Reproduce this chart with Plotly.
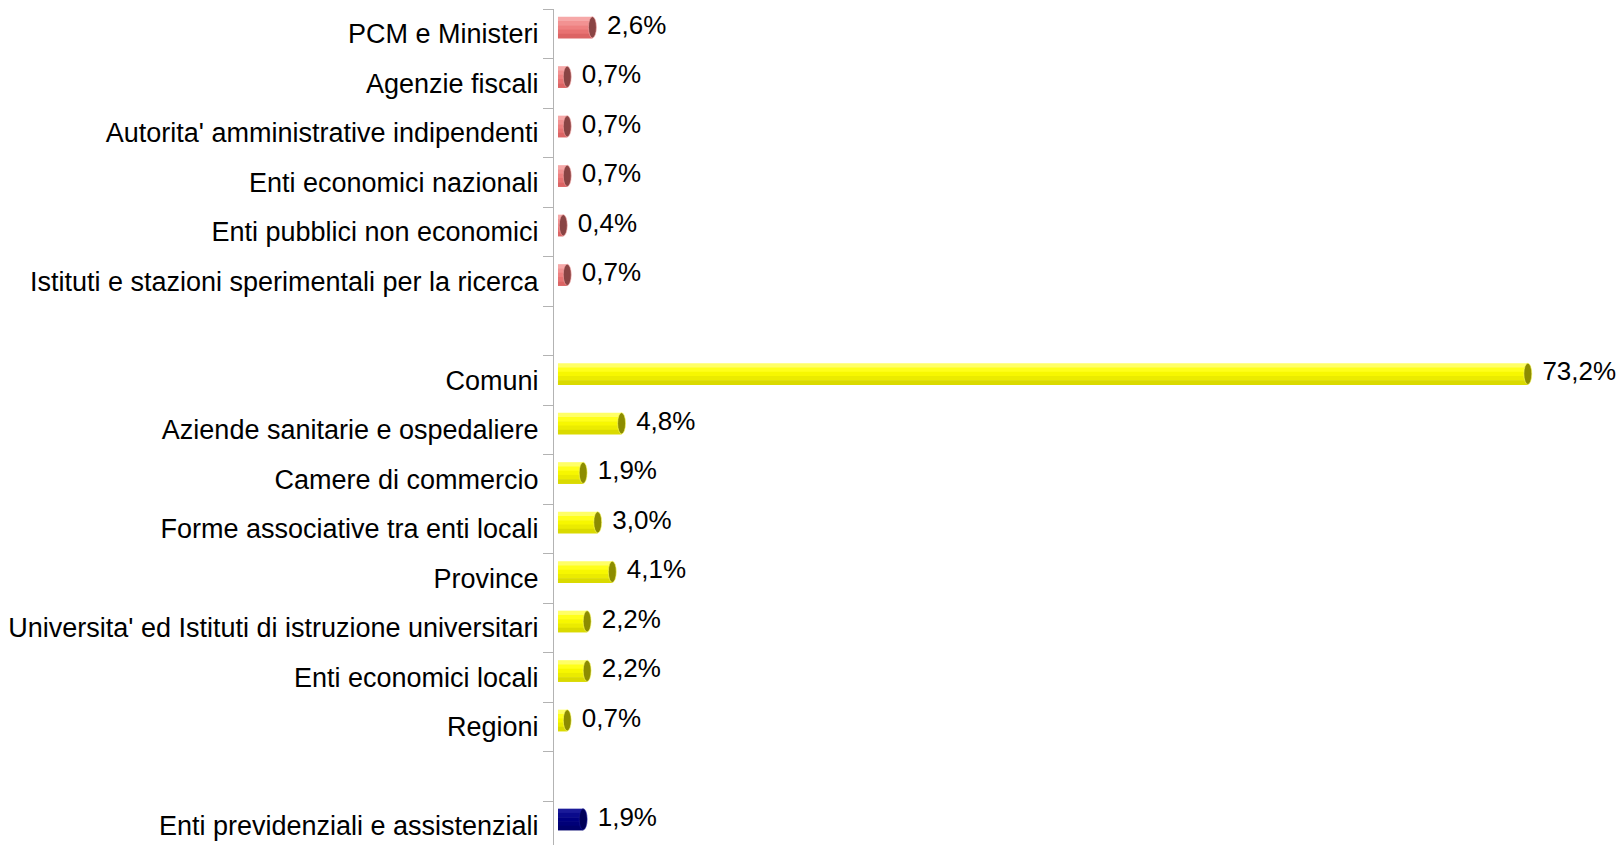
import plotly.graph_objects as go

# Amministrazioni centrali
centrali_labels = [
    "PCM e Ministeri",
    "Agenzie fiscali",
    "Autorita' amministrative indipendenti",
    "Enti economici nazionali",
    "Enti pubblici non economici",
    "Istituti e stazioni sperimentali per la ricerca",
]
centrali_values = [2.6, 0.7, 0.7, 0.7, 0.4, 0.7]

# Amministrazioni locali
locali_labels = [
    "Comuni",
    "Aziende sanitarie e ospedaliere",
    "Camere di commercio",
    "Forme associative tra enti locali",
    "Province",
    "Universita' ed Istituti di istruzione universitari",
    "Enti economici locali",
    "Regioni",
]
locali_values = [73.2, 4.8, 1.9, 3.0, 4.1, 2.2, 2.2, 0.7]

# Enti previdenziali
prev_labels = ["Enti previdenziali e assistenziali"]
prev_values = [1.9]

FONT = "Liberation Sans, Arial, sans-serif"
AXIS_GREY = "#b3b3b3"

# each group: (labels, values, shading bands top->bottom, cap colour)
groups = [
    (centrali_labels, centrali_values,
     ["#f6a8a8", "#f29292", "#ee8080", "#e87272", "#dc6464"], "#8a4444"),
    (locali_labels, locali_values,
     ["#ffff66", "#ffff1a", "#f7f700", "#ebeb00", "#dada00"], "#8c8c00"),
    (prev_labels, prev_values,
     ["#1a1a99", "#0a0a8c", "#000080", "#000078", "#00006c"], "#000058"),
]

BAR_W = 0.43
CAP_W = 0.3

fig = go.Figure()
tickvals, ticktext = [], []
pos = 0
for labels, values, bands, cap in groups:
    ys = list(range(pos, pos + len(labels)))
    tickvals += ys
    ticktext += labels
    band_w = BAR_W / len(bands)
    for k, col in enumerate(bands):
        fig.add_trace(go.Bar(
            x=values, y=ys, orientation="h", yaxis="y2",
            width=band_w + 0.01, offset=-BAR_W / 2 + k * band_w,
            marker=dict(color=col, line=dict(width=0)),
            hoverinfo="skip", showlegend=False,
        ))
    for v, y in zip(values, ys):
        fig.add_shape(type="circle", xref="x", yref="y2",
                      x0=v - CAP_W, x1=v + CAP_W,
                      y0=y - BAR_W / 2, y1=y + BAR_W / 2,
                      fillcolor=cap, line=dict(width=0.6, color=bands[0]),
                      layer="above")
    fig.add_trace(go.Scatter(
        x=[v + CAP_W + 0.8 for v in values], y=ys, yaxis="y2",
        mode="text", text=[f"{v:.1f}%".replace(".", ",") for v in values],
        textposition="middle right",
        textfont=dict(size=26, color="black", family=FONT),
        hoverinfo="skip", showlegend=False,
    ))
    pos += len(labels) + 1

# invisible trace so the category axis (y) gets drawn
fig.add_trace(go.Scatter(
    x=[0] * len(tickvals), y=tickvals, mode="markers",
    marker=dict(opacity=0), hoverinfo="skip", showlegend=False,
))

n_slots = pos - 1
px_per_slot = 49.5
plot_h = 836
y_bottom = -0.5 + plot_h / px_per_slot
shift = 0.13

fig.update_layout(
    width=1619, height=845,
    margin=dict(l=554, r=0, t=9, b=0),
    paper_bgcolor="white", plot_bgcolor="white",
    barmode="overlay",
    font=dict(family=FONT, color="black"),
    xaxis=dict(range=[-0.3, 80.08], visible=False, showgrid=False, zeroline=False),
    yaxis=dict(
        range=[y_bottom, -0.5], automargin=False,
        tickmode="array", tickvals=tickvals, ticktext=ticktext,
        tickfont=dict(size=27, color="black", family=FONT),
        ticks="", ticklabelstandoff=9,
        showline=True, linecolor=AXIS_GREY, linewidth=1,
        showgrid=False, zeroline=False,
        minor=dict(tickmode="array",
                   tickvals=[i - 0.5 for i in range(n_slots + 1)],
                   ticks="outside", ticklen=10, tickcolor=AXIS_GREY, tickwidth=1,
                   showgrid=False),
    ),
    yaxis2=dict(
        overlaying="y", range=[y_bottom + shift, -0.5 + shift],
        visible=False, showgrid=False, zeroline=False,
    ),
)

fig.write_html(
    "out.html",
    config={"displayModeBar": False},
    post_script="document.body.style.margin='0';document.body.style.overflow='hidden';",
)
